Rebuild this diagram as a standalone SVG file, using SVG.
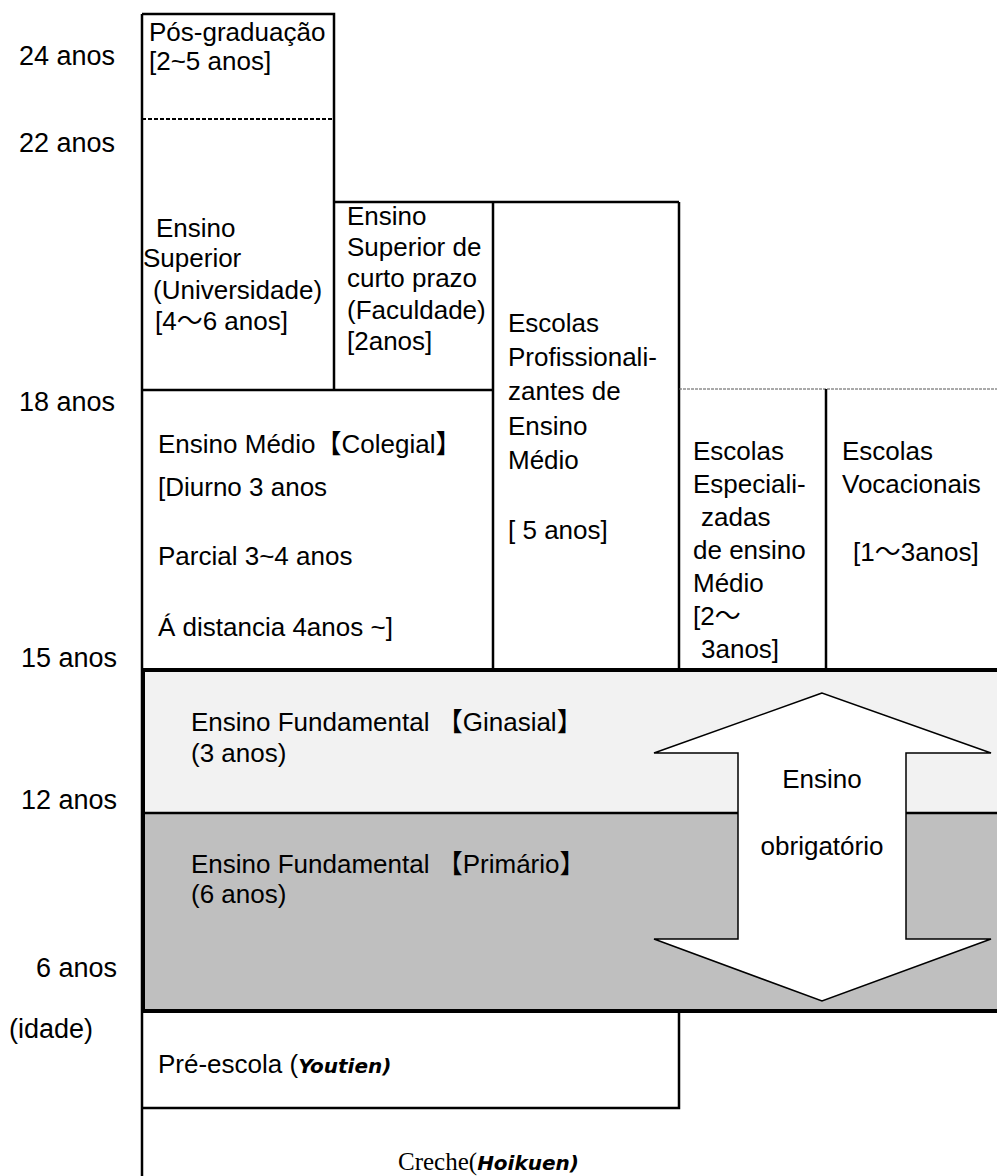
<svg xmlns="http://www.w3.org/2000/svg" width="997" height="1176" viewBox="0 0 997 1176">
<style>
text{font-family:"Liberation Sans",Arial,"Noto Sans CJK JP",sans-serif;font-size:26px;fill:#000}
.age{font-size:27px}
.ln{stroke:#000;stroke-width:2.5;fill:none}
.bi{font-family:"DejaVu Sans",sans-serif;font-weight:bold;font-style:italic;font-size:20px}
.serif{font-family:"Liberation Serif","Times New Roman",serif;font-size:25px}
.mid{text-anchor:middle}
</style>
<rect width="997" height="1176" fill="#fff"/>
<g id="ages" class="age">
<text class="age" x="19" y="65">24 anos</text>
<text class="age" x="19" y="152">22 anos</text>
<text class="age" x="19" y="411">18 anos</text>
<text class="age" x="21" y="667">15 anos</text>
<text class="age" x="21" y="809">12 anos</text>
<text class="age" x="36" y="977">6 anos</text>
<text class="age" x="9" y="1038">(idade)</text>
</g>
<g id="fundamental-bands">
<rect x="142" y="670" width="860" height="143" fill="#f2f2f2"/>
<rect x="142" y="813" width="860" height="198" fill="#bfbfbf"/>
<line x1="142" y1="813" x2="997" y2="813" class="ln" stroke-width="2"/>
<rect x="143" y="670" width="860" height="341" fill="none" stroke="#000" stroke-width="4"/>
</g>
<g id="pos-graduacao">
<path d="M142 14 H334 V119" class="ln"/>
<line x1="142" y1="119" x2="334" y2="119" stroke="#000" stroke-width="2" stroke-dasharray="4 2"/>
<text x="149" y="41">Pós-graduação</text>
<text x="149" y="70">[2~5 anos]</text>
</g>
<g id="ensino-superior">
<path d="M334 119 V390" class="ln"/>
<text x="156" y="237">Ensino</text>
<text x="143" y="267">Superior</text>
<text x="153" y="299">(Universidade)</text>
<text x="155" y="330">[4～6 anos]</text>
</g>
<g id="ensino-superior-curto">
<path d="M334 202 H679" class="ln" stroke-width="2"/>
<text x="347" y="225">Ensino</text>
<text x="347" y="256">Superior de</text>
<text x="347" y="287">curto prazo</text>
<text x="347" y="319">(Faculdade)</text>
<text x="347" y="350">[2anos]</text>
</g>
<g id="escolas-profissionalizantes">
<path d="M493 202 V670 M679 202 V670" class="ln" stroke-width="2"/>
<text x="508" y="332">Escolas</text>
<text x="508" y="366">Profissionali-</text>
<text x="508" y="400">zantes de</text>
<text x="508" y="435">Ensino</text>
<text x="508" y="469">Médio</text>
<text x="508" y="539">[ 5 anos]</text>
</g>
<g id="ensino-medio">
<path d="M142 390 H493" class="ln" stroke-width="3"/>
<text x="158" y="453">Ensino Médio【Colegial】</text>
<text x="158" y="496">[Diurno 3 anos</text>
<text x="158" y="565">Parcial 3~4 anos</text>
<text x="158" y="636">Á distancia 4anos ~]</text>
</g>
<g id="escolas-especializadas">
<line x1="679" y1="389" x2="997" y2="389" stroke="#555" stroke-width="1" stroke-dasharray="3 1"/>
<path d="M826 389 V670" class="ln" stroke-width="2"/>
<text x="693" y="460">Escolas</text>
<text x="693" y="493">Especiali-</text>
<text x="701" y="526">zadas</text>
<text x="693" y="559">de ensino</text>
<text x="693" y="592">Médio</text>
<text x="693" y="625">[2～</text>
<text x="701" y="658">3anos]</text>
</g>
<g id="escolas-vocacionais">
<text x="842" y="460">Escolas</text>
<text x="842" y="493">Vocacionais</text>
<text x="853" y="561">[1～3anos]</text>
</g>
<g id="fundamental-ginasial">
<text x="191" y="731">Ensino Fundamental 【Ginasial】</text>
<text x="191" y="762">(3 anos)</text>
</g>
<g id="fundamental-primario">
<text x="191" y="873">Ensino Fundamental 【Primário】</text>
<text x="191" y="903">(6 anos)</text>
</g>
<g id="ensino-obrigatorio">
<polygon points="822,693 654,753 738,753 738,939 654,939 822,1001 991,939 906,939 906,753 991,753" fill="#fff" stroke="#000" stroke-width="1.5"/>
<text x="822" y="788" class="mid">Ensino</text>
<text x="822" y="855" class="mid">obrigatório</text>
</g>
<g id="pre-escola">
<path d="M142 1108 H679 V1011" class="ln" stroke-width="2"/>
<text x="158" y="1073">Pré-escola (<tspan class="bi">Youtien)</tspan></text>
</g>
<g id="creche">
<path d="M142 14 V1176" class="ln" stroke-width="3"/>
<text x="398" y="1170" class="serif">Creche(<tspan class="bi">Hoikuen)</tspan></text>
</g>
<g id="connectors"></g>
</svg>
